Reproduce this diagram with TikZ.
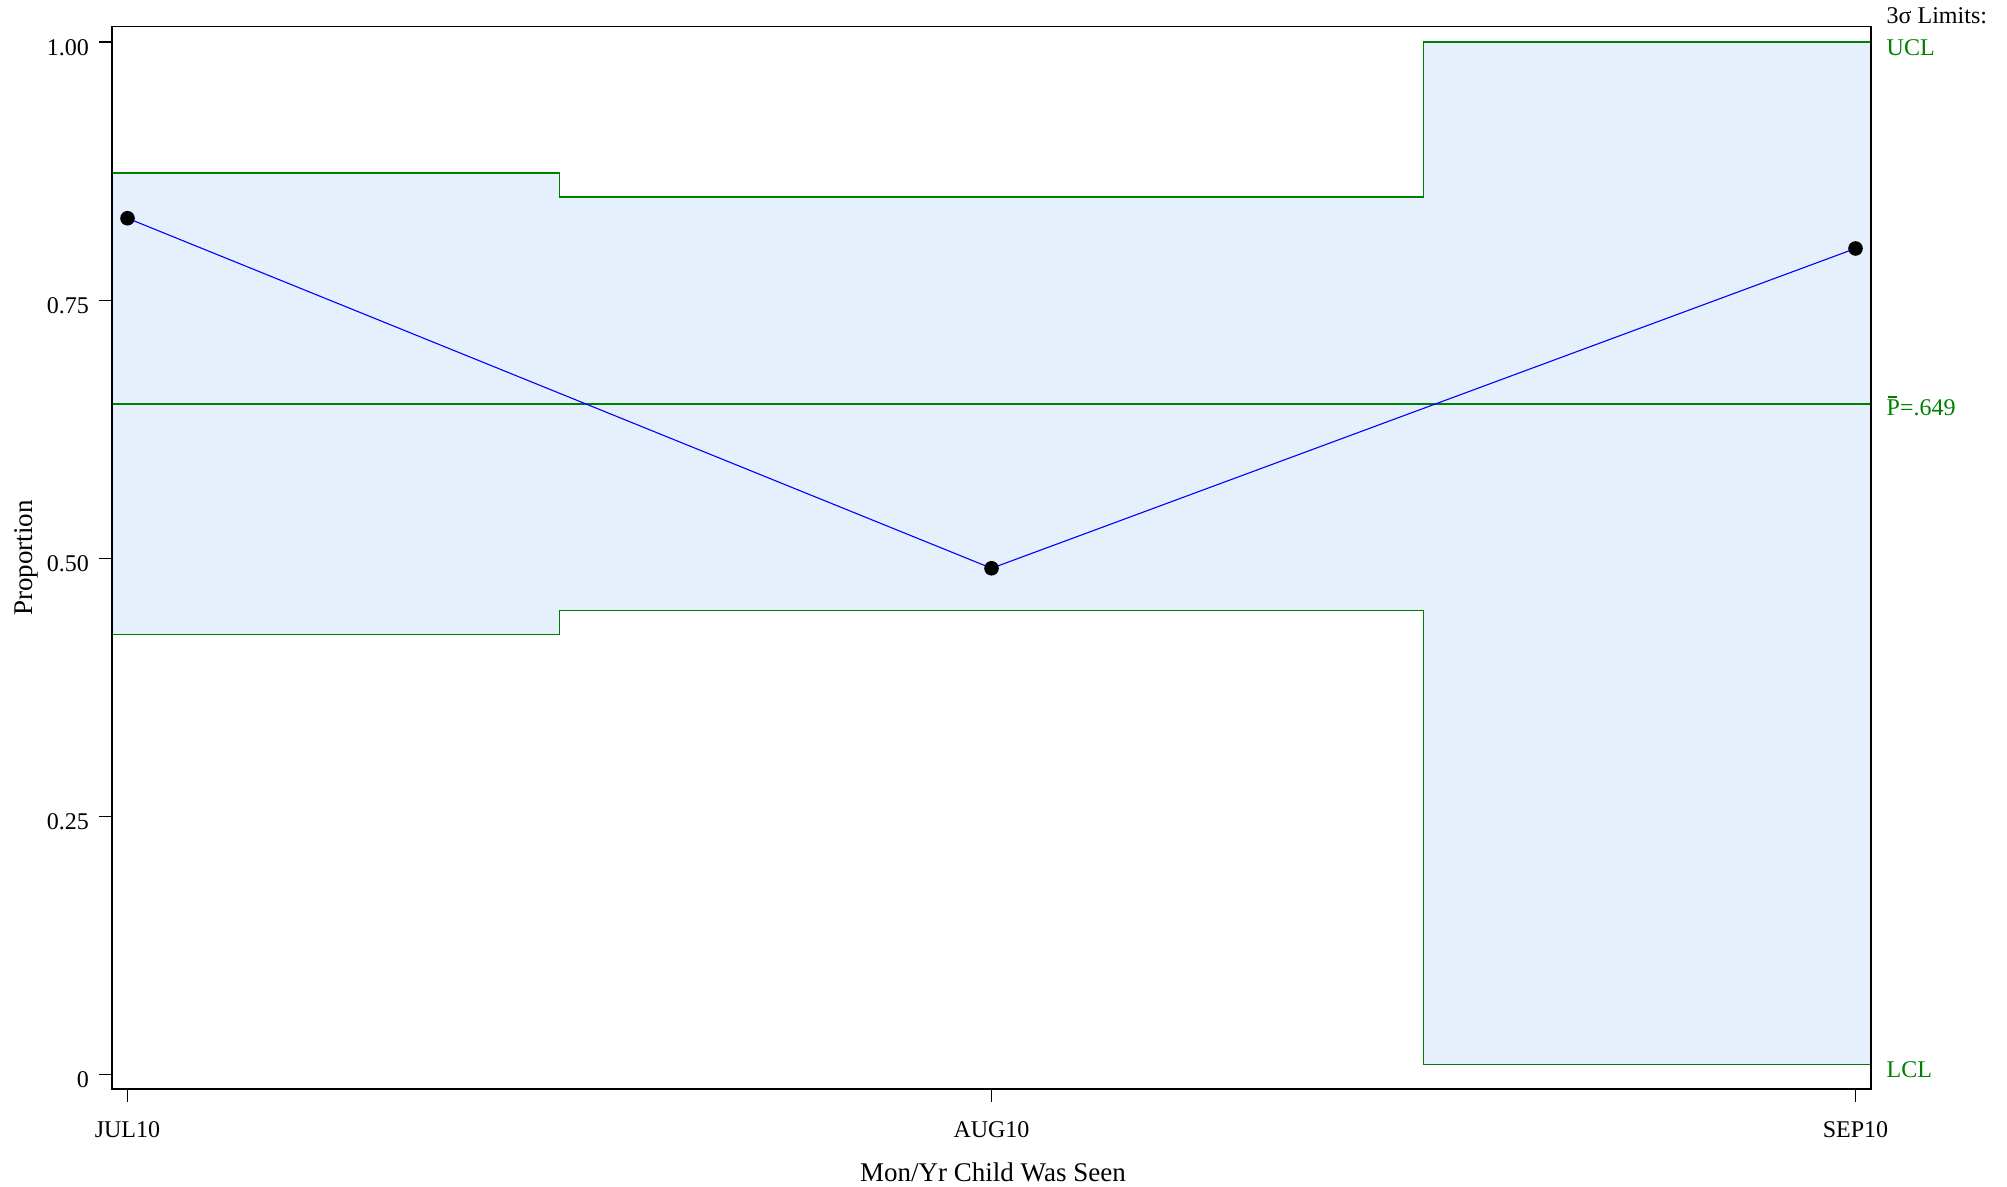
\documentclass[tikz,border=0pt]{standalone}
\usepackage{fontspec}
\setmainfont{Liberation Serif}
\definecolor{bandfill}{RGB}{229,240,252}
\definecolor{limgreen}{RGB}{0,128,0}
\definecolor{serblue}{RGB}{0,0,255}
\newcommand\pbarlabel{\rlap{\hspace{0.8pt}\rule[17.5pt]{9pt}{1.2pt}}P}
\begin{document}
\begin{tikzpicture}[x=1pt,y=-1pt,
  ticklab/.style={font=\fontsize{24}{28}\selectfont, inner sep=0pt},
  axlab/.style={font=\fontsize{27}{32}\selectfont, inner sep=0pt},
  limlab/.style={font=\fontsize{24}{28}\selectfont, inner sep=0pt, anchor=base west, text=limgreen},
  limline/.style={draw=limgreen, line width=1.4pt},
  serline/.style={draw=serblue, line width=1.1pt},
  dot/.style={circle, fill=black, inner sep=0pt, minimum size=14.6pt},
  tickline/.style={line width=1.2pt},
  framebox/.style={line width=1.4pt}]
\useasboundingbox (0,0) rectangle (2007,1186);
% band between limits
\fill[bandfill] (112,173.06) -| (559.5,196.93) -| (1423.5,42) -| (1871,1064.65) -| (1423.5,610.75) -| (559.5,634.6) -| (112,173.06) -- cycle;
% limit lines
\draw[limline] (112,173.06) -| (559.5,196.93) -| (1423.5,42) -- (1871,42);
\draw[limline] (112,634.6) -| (559.5,610.75) -| (1423.5,1064.65) -- (1871,1064.65);
\draw[limline] (112,403.84) -- (1871,403.84);
% series
\coordinate (c1) at (127.5,218.24);
\coordinate (c2) at (991.5,568.27);
\coordinate (c3) at (1855.5,248.46);
\draw[serline] (c1) -- (c2) -- (c3);
\node[dot] (p1) at (c1) {};
\node[dot] (p2) at (c2) {};
\node[dot] (p3) at (c3) {};
% frame
\draw[framebox] (112,26.7) rectangle (1871,1089);
% y ticks
\foreach \yy/\lab in {42/1.00, 300.1/0.75, 558.15/0.50, 816.2/0.25, 1074.3/0}{
  \draw[tickline] (99,\yy) -- (112,\yy);
  \node[ticklab, anchor=base east] at (89,\yy+13.5) {\lab};
}
% x ticks
\foreach \xx/\lab in {127.5/JUL10, 991.5/AUG10, 1855.5/SEP10}{
  \draw[tickline] (\xx,1089) -- (\xx,1101.7);
  \node[ticklab, anchor=base] at (\xx,1137.5) {\lab};
}
% axis labels
\node[axlab, anchor=base] (xlab) at (993,1181.5) {Mon/Yr Child Was Seen};
\node[axlab, anchor=base, rotate=90] (ylab) at (32.5,558) {Proportion};
% right labels
\node[ticklab, anchor=base west] (limhead) at (1886.5,23.3) {3σ Limits:};
\node[limlab] (ucl) at (1886.5,55) {UCL};
\node[limlab] (pbar) at (1886.5,415) {\pbarlabel=.649};
\node[limlab] (lcl) at (1886.5,1077.7) {LCL};
\end{tikzpicture}
\end{document}
